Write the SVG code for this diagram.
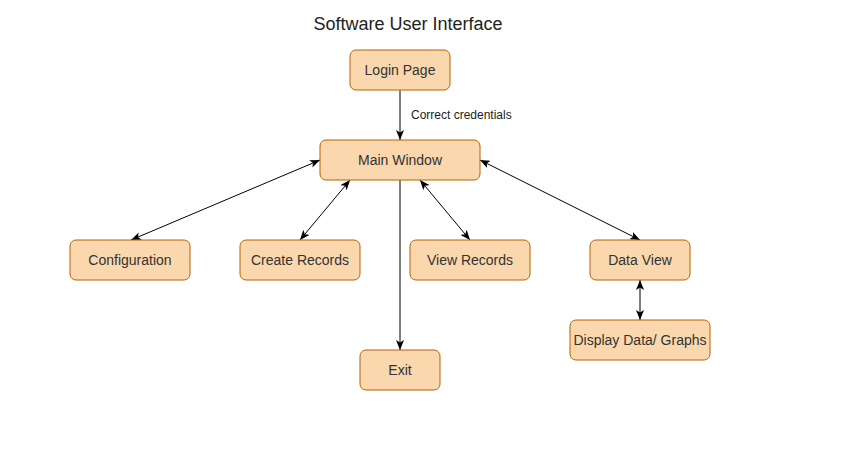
<svg xmlns="http://www.w3.org/2000/svg" width="850" height="450" viewBox="0 0 850 450">
<defs>
<style>
.node rect{fill:#fad7ac;stroke:#b46504;stroke-width:1}
.node text{font-family:"Liberation Sans",Arial,sans-serif;font-size:14px;fill:#333333;text-anchor:middle;dominant-baseline:central}
.edge{stroke:#000;stroke-width:1;fill:none}
.title{font-family:"Liberation Sans",Arial,sans-serif;font-size:18px;fill:#222;text-anchor:middle}
.lbl{font-family:"Liberation Sans",Arial,sans-serif;font-size:12px;fill:#222}
</style>
<marker id="ah" viewBox="0 0 10 8" refX="10" refY="4" markerWidth="10" markerHeight="8" markerUnits="userSpaceOnUse" orient="auto-start-reverse">
<path d="M0,0 L10,4 L0,8 L2.5,4 Z" fill="#000"/>
</marker>
</defs>
<rect width="850" height="450" fill="#fff"/>
<text class="title" x="408" y="30">Software User Interface</text>
<g id="connectors">
<line class="edge" x1="400" y1="90" x2="400" y2="140" marker-end="url(#ah)"/>
<text class="lbl" x="411" y="119">Correct credentials</text>
<line class="edge" x1="320" y1="160" x2="131" y2="240" marker-start="url(#ah)" marker-end="url(#ah)"/>
<line class="edge" x1="350" y1="180" x2="300" y2="240" marker-start="url(#ah)" marker-end="url(#ah)"/>
<line class="edge" x1="420" y1="180" x2="470" y2="240" marker-start="url(#ah)" marker-end="url(#ah)"/>
<line class="edge" x1="480" y1="160" x2="640" y2="240" marker-start="url(#ah)" marker-end="url(#ah)"/>
<line class="edge" x1="400" y1="180" x2="400" y2="350" marker-end="url(#ah)"/>
<line class="edge" x1="640" y1="280" x2="640" y2="320" marker-start="url(#ah)" marker-end="url(#ah)"/>
</g>
<g id="login" class="node"><rect x="350" y="50" width="100" height="40" rx="6"/><text x="400" y="70">Login Page</text></g>
<g id="main" class="node"><rect x="320" y="140" width="160" height="40" rx="6"/><text x="400" y="160">Main Window</text></g>
<g id="config" class="node"><rect x="70" y="240" width="120" height="40" rx="6"/><text x="130" y="260">Configuration</text></g>
<g id="create" class="node"><rect x="240" y="240" width="120" height="40" rx="6"/><text x="300" y="260">Create Records</text></g>
<g id="view" class="node"><rect x="410" y="240" width="120" height="40" rx="6"/><text x="470" y="260">View Records</text></g>
<g id="dataview" class="node"><rect x="590" y="240" width="100" height="40" rx="6"/><text x="640" y="260">Data View</text></g>
<g id="display" class="node"><rect x="570" y="320" width="140" height="40" rx="6"/><text x="640" y="340">Display Data/ Graphs</text></g>
<g id="exit" class="node"><rect x="360" y="350" width="80" height="40" rx="6"/><text x="400" y="370">Exit</text></g>
</svg>
